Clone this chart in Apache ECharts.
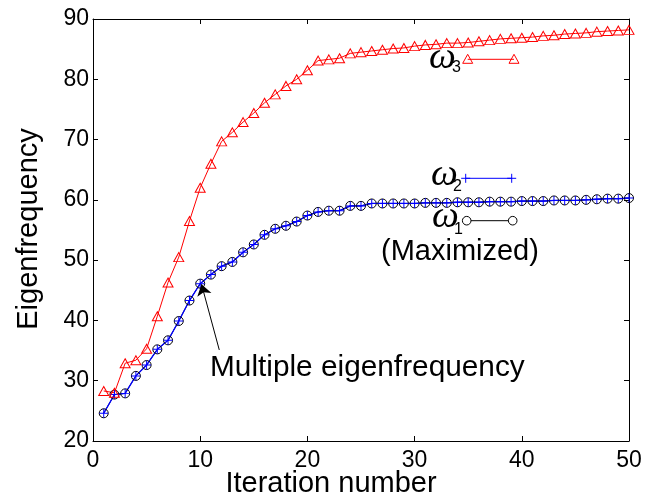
<!DOCTYPE html>
<html><head><meta charset="utf-8">
<script src="https://cdn.jsdelivr.net/npm/echarts@6/dist/echarts.min.js"></script>
<style>html,body{margin:0;padding:0;background:#fff}#c{width:654px;height:500px}</style>
</head><body><div id="c"></div>
<script>
const iterations = [1,2,3,4,5,6,7,8,9,10,11,12,13,14,15,16,17,18,19,20,21,22,23,24,25,26,27,28,29,30,31,32,33,34,35,36,37,38,39,40,41,42,43,44,45,46,47,48,49,50];
const omega1 = [24.6,27.7,27.9,30.8,32.6,35.2,36.7,39.9,43.3,46.1,47.6,49.0,49.7,51.3,52.6,54.2,55.2,55.7,56.4,57.4,58.0,58.2,58.2,59.0,59.0,59.4,59.4,59.4,59.4,59.4,59.5,59.5,59.5,59.6,59.6,59.6,59.7,59.7,59.7,59.8,59.8,59.8,59.9,59.9,59.9,60.0,60.1,60.2,60.2,60.3];
const omega2 = [24.6,27.7,27.9,30.8,32.6,35.2,36.7,39.9,43.3,46.1,47.6,49.0,49.7,51.3,52.6,54.2,55.2,55.7,56.4,57.4,58.0,58.2,58.2,59.0,59.0,59.4,59.4,59.4,59.4,59.4,59.5,59.5,59.5,59.6,59.6,59.6,59.7,59.7,59.7,59.8,59.8,59.8,59.9,59.9,59.9,60.0,60.1,60.2,60.2,60.3];
const omega3 = [28.3,28.0,32.9,33.4,35.3,40.7,46.3,50.5,56.5,62.0,66.0,69.7,71.2,72.9,74.4,76.1,77.5,78.9,80.0,81.5,83.1,83.3,83.5,84.3,84.5,84.7,84.9,85.1,85.2,85.5,85.7,85.8,86.0,86.0,86.1,86.3,86.5,86.7,86.8,86.9,87.0,87.2,87.3,87.5,87.6,87.7,87.9,88.0,88.1,88.2];
const xTitle = 'Iteration number';
const yTitle = 'Eigenfrequency';
const annotation = 'Multiple eigenfrequency';
const arrowFrom = [11.78, 35.1];
const arrowTo = [10.12, 46.0];

const FONT = '"Liberation Sans", Arial, sans-serif';
const SERIF = '"Liberation Serif", "Times New Roman", serif';
const pairs = arr => iterations.map((x, i) => [x, arr[i]]);
const plus = 'path://M4.45,0H5.55V4.45H10V5.55H5.55V10H4.45V5.55H0V4.45H4.45Z';
const axisCommon = {
  axisLine: {onZero: false, lineStyle: {color: '#000', width: 1}},
  axisTick: {inside: true, length: 5, lineStyle: {color: '#000', width: 1}},
  splitLine: {show: false}
};
const chart = echarts.init(document.getElementById('c'));

function legendRow(lab, sub, tx, ty, sx, sy, x1, x2, ly, color, kind) {
  const els = [
    {type: 'text', x: tx, y: ty, style: {text: lab, font: 'italic 38px ' + SERIF, fill: '#000', textAlign: 'left', textVerticalAlign: 'middle'}},
    {type: 'text', x: sx, y: sy, style: {text: sub, font: '16px ' + FONT, fill: '#000', textAlign: 'left', textVerticalAlign: 'middle'}},
    {type: 'line', shape: {x1: x1, y1: ly, x2: x2, y2: ly}, style: {stroke: color, lineWidth: 1}}
  ];
  [x1, x2].forEach(cx => {
    if (kind === 'tri') {
      els.push({type: 'polygon', shape: {points: [[cx, ly - 5], [cx + 5, ly + 4], [cx - 5, ly + 4]]}, style: {fill: 'none', stroke: color, lineWidth: 1}});
    } else if (kind === 'plus') {
      els.push({type: 'line', shape: {x1: cx - 4.5, y1: ly, x2: cx + 4.5, y2: ly}, style: {stroke: color, lineWidth: 1}});
      els.push({type: 'line', shape: {x1: cx, y1: ly - 4.5, x2: cx, y2: ly + 4.5}, style: {stroke: color, lineWidth: 1}});
    } else {
      els.push({type: 'circle', shape: {cx: cx, cy: ly, r: 4.3}, style: {fill: '#fff', stroke: color, lineWidth: 1}});
    }
  });
  return els;
}

const option = {
  animation: false,
  backgroundColor: '#fff',
  grid: {left: 93, right: 25, top: 19, bottom: 59},
  xAxis: [
    Object.assign({type: 'value', min: 0, max: 50, interval: 10,
      axisLabel: {fontSize: 23, color: '#000', fontFamily: FONT, margin: 8}}, axisCommon),
    Object.assign({type: 'value', position: 'top', min: 0, max: 50, interval: 10,
      axisLabel: {show: false}}, axisCommon)
  ],
  yAxis: [
    Object.assign({type: 'value', min: 20, max: 90, interval: 10,
      axisLabel: {fontSize: 23, color: '#000', fontFamily: FONT, margin: 4}}, axisCommon),
    Object.assign({type: 'value', position: 'right', min: 20, max: 90, interval: 10,
      axisLabel: {show: false}}, axisCommon)
  ],
  series: [
    {name: 'ω1', type: 'line', data: pairs(omega1), symbol: 'circle', symbolSize: 9,
     lineStyle: {color: '#000', width: 1}, itemStyle: {color: 'rgba(255,255,255,0)', borderColor: '#000', borderWidth: 1},
     emphasis: {disabled: true},
     markLine: {silent: true, symbol: ['none', 'arrow'], symbolSize: 11, label: {show: false},
       lineStyle: {color: '#000', width: 1, type: 'solid'},
       data: [[{coord: arrowFrom}, {coord: arrowTo}]]}},
    {name: 'ω2', type: 'line', data: pairs(omega2), symbol: plus, symbolSize: 9,
     lineStyle: {color: '#0000ff', width: 1.3}, itemStyle: {color: '#0000ff'}, emphasis: {disabled: true}},
    {name: 'ω3', type: 'line', data: pairs(omega3), symbol: 'triangle', symbolSize: [10, 9],
     lineStyle: {color: '#ff0000', width: 1}, itemStyle: {color: 'rgba(255,255,255,0)', borderColor: '#ff0000', borderWidth: 1},
     emphasis: {disabled: true}}
  ],
  graphic: [
    {type: 'text', x: 29, y: 229, rotation: Math.PI / 2, style: {text: yTitle, font: '29px ' + FONT, fill: '#000', textAlign: 'center', textVerticalAlign: 'middle'}},
    {type: 'text', x: 331, y: 484, style: {text: xTitle, font: '29px ' + FONT, fill: '#000', textAlign: 'center', textVerticalAlign: 'middle'}},
    {type: 'text', x: 210, y: 368, style: {text: annotation, font: '29.8px ' + FONT, fill: '#000', textAlign: 'left', textVerticalAlign: 'middle'}},
    {type: 'text', x: 381, y: 252, style: {text: '(Maximized)', font: '29px ' + FONT, fill: '#000', textAlign: 'left', textVerticalAlign: 'middle'}}
  ].concat(
    legendRow('ω', '3', 429, 58, 452, 67.5, 467.7, 514, 59.3, '#ff0000', 'tri'),
    legendRow('ω', '2', 431, 175, 453, 187, 465.7, 511.7, 178.3, '#0000ff', 'plus'),
    legendRow('ω', '1', 432, 217, 454, 229.5, 466.7, 512.7, 220.7, '#000', 'circ')
  )
};
chart.setOption(option);
</script></body></html>
